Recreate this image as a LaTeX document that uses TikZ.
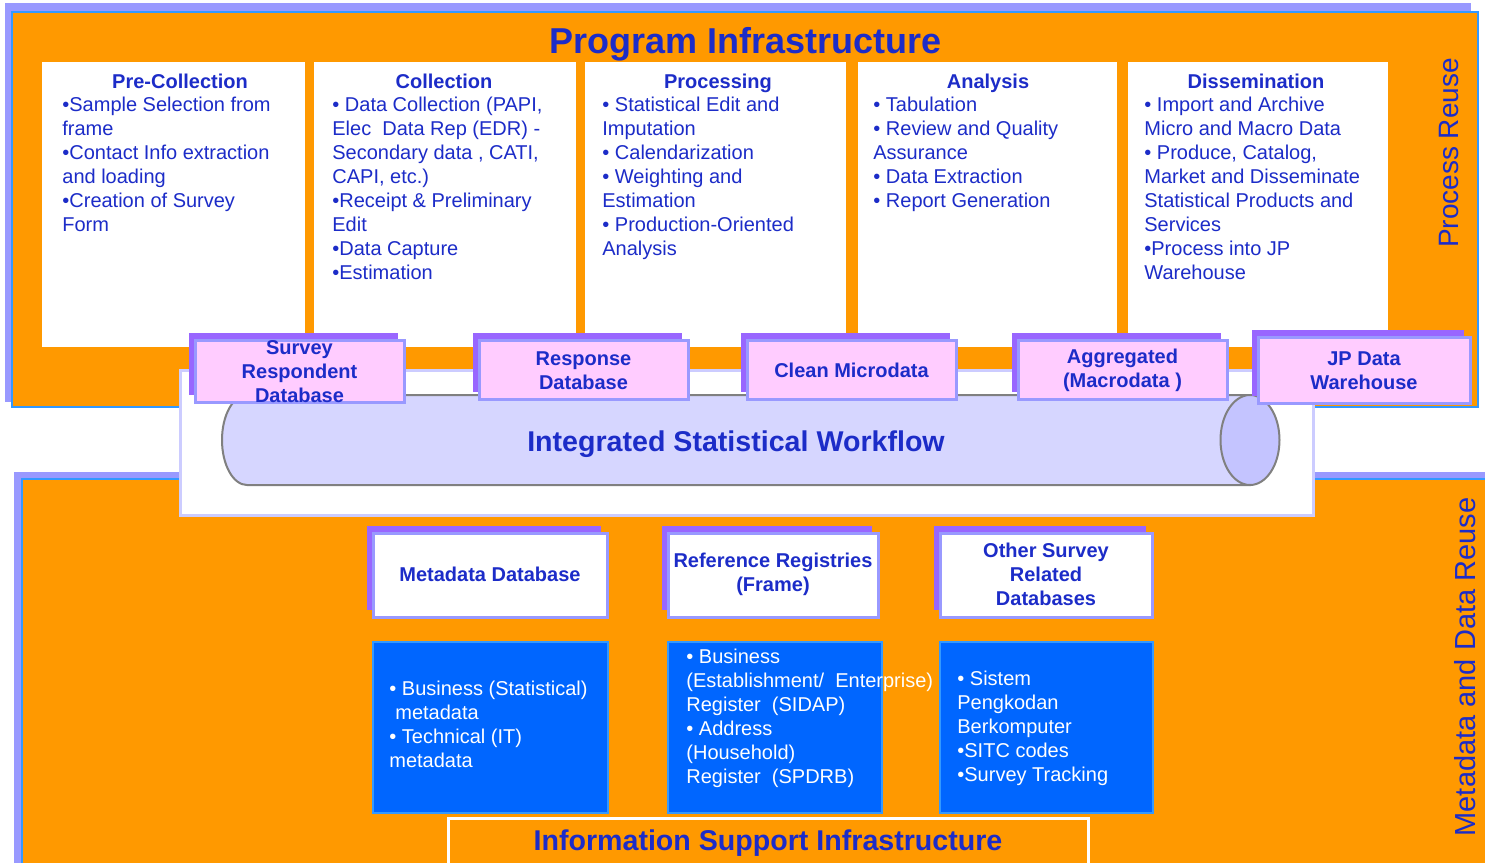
\documentclass[tikz,border=0pt]{standalone}
\usepackage{fontspec}
\setmainfont{Liberation Sans}
\usetikzlibrary{positioning}

\definecolor{orng}{RGB}{255,153,0}
\definecolor{frameblue}{RGB}{51,153,255}
\definecolor{lilac}{RGB}{153,153,255}
\definecolor{lavender}{RGB}{204,204,255}
\definecolor{boxshade}{RGB}{153,102,255}
\definecolor{pinkfill}{RGB}{255,204,255}
\definecolor{txtblue}{RGB}{28,44,200}
\definecolor{boxblue}{RGB}{0,102,255}
\definecolor{tube}{RGB}{214,214,255}
\definecolor{tubecap}{RGB}{196,196,255}

\begin{document}
\begin{tikzpicture}[x=0.5pt,y=-0.5pt,
	every node/.style={inner sep=0pt,text=txtblue,font=\fontsize{10}{12}\selectfont},
	colhead/.style={anchor=base,font=\bfseries\fontsize{10}{12}\selectfont},
	colbody/.style={anchor=north west,align=left},
	dblabel/.style={align=center,font=\bfseries\fontsize{10}{12}\selectfont},
	bigtitle/.style={anchor=base,font=\bfseries\fontsize{14.3}{17}\selectfont},
	sidelabel/.style={rotate=90}]

\useasboundingbox (0,0) rectangle (1485,863);
\clip (0,0) rectangle (1485,863);

% frames
\fill[lilac] (5,3) rectangle (1471,402);
\filldraw[fill=orng,draw=frameblue,line width=1pt] (12,12) rectangle (1478,407);
\fill[lilac] (14,472) rectangle (1495,875);
\filldraw[fill=orng,draw=frameblue,line width=1pt] (22,479) rectangle (1500,880);

\foreach \x/\w in {42/305,314/576,585/846,858/1117,1128/1388} {
	\fill[white] (\x,62) rectangle (\w,347);
}

% workflow tube
\filldraw[fill=white,draw=lavender,line width=1.5pt] (180,370) rectangle (1313,515);
\filldraw[fill=tube,draw=gray,line width=1pt] (1250,395) -- (247,395)
	arc[start angle=270,end angle=90,x radius=25,y radius=45] -- (1250,485) -- cycle;
\filldraw[fill=tubecap,draw=gray,line width=1pt] (1250,440) ellipse[x radius=29.5,y radius=45];
\node[bigtitle] (workflow) at (736,451) {Integrated Statistical Workflow};

\foreach \a/\b/\c/\d/\n/\t in {
	195/340/404/402/srdb/{Survey\\Respondent\\Database},
	479/340/688/399/respdb/{Response\\Database},
	747/340/956/399/cleandb/{Clean Microdata},
	1018/340/1227/399/aggdb/{Aggregated\\(Macrodata )},
	1258/337/1470/403/jpdw/{JP Data\\Warehouse}} {
	\fill[boxshade] (\a-6,\b-7) rectangle (\c-6,\d-7);
	\filldraw[fill=pinkfill,draw=lilac,line width=1.5pt] (\a,\b) rectangle (\c,\d);
	\node[dblabel] (\n) at ({(\a+\c)/2},{(\b+\d)/2+1}) {\t};
}

\foreach \a/\c/\n/\t in {
	373/607/metadb/{Metadata Database},
	668/878/refreg/{Reference Registries\\(Frame)},
	940/1152/otherdb/{Other Survey\\Related\\Databases}} {
	\fill[boxshade] (\a-6,526) rectangle (\c-6,610);
	\filldraw[fill=white,draw=lilac,line width=1.5pt] (\a,533) rectangle (\c,617);
	\node[dblabel] (\n) at ({(\a+\c)/2},574) {\t};
}

\foreach \a/\c in {373/608,668/882,940/1153} {
	\filldraw[fill=boxblue,draw=frameblue,line width=1pt] (\a,642) rectangle (\c,813);
}

\filldraw[fill=orng,draw=white,line width=1.5pt] (448,818) rectangle (1088,880);

% titles
\node[anchor=base,font=\bfseries\fontsize{18}{21}\selectfont] (title) at (746,53) {Program Infrastructure};
\node[bigtitle] (infosupport) at (768,850) {Information Support Infrastructure};
\node[sidelabel,font=\fontsize{14}{16}\selectfont] (procreuse) at (1449,153) {Process Reuse};
\node[sidelabel,font=\fontsize{14.5}{17}\selectfont] (datareuse) at (1465,667) {Metadata and Data Reuse};

% process columns
\node[colhead] (precoll) at (180,88) {Pre-Collection};
\node[colhead] (coll) at (444,88) {Collection};
\node[colhead] (proc) at (718,88) {Processing};
\node[colhead] (anal) at (988,88) {Analysis};
\node[colhead] (dissem) at (1256,88) {Dissemination};

\node[colbody] (precollbody) at (62,97) {•Sample Selection from\\frame\\•Contact Info extraction\\and loading\\•Creation of Survey\\Form};
\node[colbody] (collbody) at (332,97) {• Data Collection (PAPI,\\Elec\ \ Data Rep (EDR) -\\Secondary data , CATI,\\CAPI, etc.)\\•Receipt \& Preliminary\\Edit\\•Data Capture\\•Estimation};
\node[colbody] (procbody) at (602,97) {• Statistical Edit and\\Imputation\\• Calendarization\\• Weighting and\\Estimation\\• Production-Oriented\\Analysis};
\node[colbody] (analbody) at (873,97) {• Tabulation\\• Review and Quality\\Assurance\\• Data Extraction\\• Report Generation};
\node[colbody] (dissembody) at (1144,97) {• Import and Archive\\Micro and Macro Data\\• Produce, Catalog,\\Market and Disseminate\\Statistical Products and\\Services\\•Process into JP\\Warehouse};

% blue boxes
\node[colbody,text=white] (metatext) at (389,681) {• Business (Statistical)\\\hspace*{0.3em}metadata\\• Technical (IT)\\metadata};
\node[colbody,text=white] (regtext) at (686,649) {• Business\\(Establishment/\ \ Enterprise)\\Register\ \ (SIDAP)\\• Address\\(Household)\\Register\ \ (SPDRB)};
\node[colbody,text=white] (othertext) at (957,671) {• Sistem\\Pengkodan\\Berkomputer\\•SITC codes\\•Survey Tracking};

\end{tikzpicture}
\end{document}
